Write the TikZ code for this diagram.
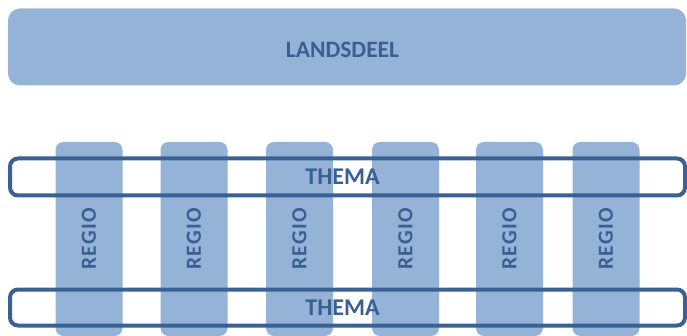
\documentclass[tikz,border=0pt]{standalone}
\usepackage{fontspec}
\setmainfont{Carlito}
\newfontfamily\regiofont[LetterSpace=6]{Carlito}
\definecolor{blockfill}{HTML}{95B3D7}
\definecolor{blockline}{HTML}{3A6194}
\definecolor{blocktext}{HTML}{3A5F92}
\begin{document}
\begin{tikzpicture}[x=1pt,y=-1pt,
  levelbox/.style={fill=blockfill, draw=none, rounded corners=12pt, inner sep=0pt,
    font=\bfseries\fontsize{23.5}{25}\selectfont, text=blocktext},
  regiobox/.style={fill=blockfill, draw=none, rounded corners=8pt, inner sep=0pt,
    rotate=90, minimum width=194pt, minimum height=67pt, text=blocktext},
  themabox/.style={draw=blockline, line width=4pt, rounded corners=8pt, inner sep=0pt,
    minimum width=675pt, font=\bfseries\fontsize{24}{26}\selectfont, text=blocktext}]
  \path[use as bounding box, fill=white] (0,0) rectangle (687,336);

  % top level
  \node[levelbox, minimum width=678pt, minimum height=77pt,
        text height=21pt, text depth=0pt] (landsdeel) at (347,47)
    {\hspace*{-9pt}LANDSDEEL};

  % regions
  \foreach \cx [count=\i] in {89,194,299.5,405.5,509.5,606}
    \node[regiobox] (regio\i) at (\cx,239)
      {\regiofont\bfseries\fontsize{21.5}{23}\selectfont REGIO};

  % themes across the regions
  \node[themabox, minimum height=37pt] (thema1) at (347.5,177)
    {\hspace*{-10pt}THEMA};
  \node[themabox, minimum height=36pt] (thema2) at (347.5,307.5)
    {\hspace*{-10pt}THEMA};
\end{tikzpicture}
\end{document}
